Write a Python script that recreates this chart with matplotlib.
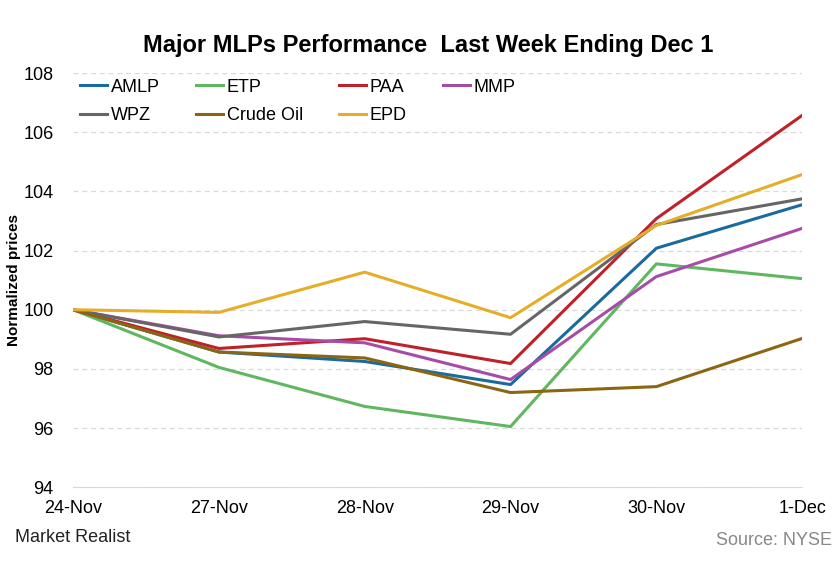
import matplotlib.pyplot as plt

plt.rcParams['font.family'] = ['Liberation Sans', 'DejaVu Sans']

# Data
dates = ['24-Nov', '27-Nov', '28-Nov', '29-Nov', '30-Nov', '1-Dec']
amlp = [100, 98.57, 98.25, 97.47, 102.08, 103.55]
etp = [100, 98.05, 96.73, 96.05, 101.55, 101.05]
paa = [100, 98.69, 99.02, 98.18, 103.08, 106.57]
mmp = [100, 99.12, 98.88, 97.64, 101.12, 102.75]
wpz = [100, 99.08, 99.6, 99.17, 102.88, 103.75]
crude = [100, 98.57, 98.37, 97.2, 97.4, 99.03]
epd = [100, 99.91, 101.27, 99.73, 102.85, 104.57]

series = [
    ('AMLP', amlp, '#1a6a9e'),
    ('ETP', etp, '#5fb760'),
    ('PAA', paa, '#c0202a'),
    ('MMP', mmp, '#a64ca8'),
    ('WPZ', wpz, '#666666'),
    ('Crude Oil', crude, '#8a6612'),
    ('EPD', epd, '#e6ad28'),
]

fig = plt.figure(figsize=(8.4, 5.8), dpi=100)
ax = fig.add_axes([0.087, 0.160, 0.868, 0.714])

lines = {}
for name, vals, color in series:
    ln, = ax.plot(range(len(dates)), vals, color=color, lw=2.2, label=name)
    lines[name] = ln

ax.set_xlim(0, len(dates) - 1)
ax.set_ylim(94, 108)
ax.set_yticks(range(94, 109, 2))
ax.set_xticks(range(len(dates)))
ax.set_xticklabels(dates)
ax.tick_params(axis='both', length=0, labelsize=13)
ax.tick_params(axis='x', pad=9)
ax.tick_params(axis='y', pad=14)
ax.yaxis.grid(True, color='#d9d9d9', linestyle=(0, (4, 3)), lw=0.9)
ax.set_axisbelow(True)
for s in ['top', 'right', 'left']:
    ax.spines[s].set_visible(False)
ax.spines['bottom'].set_color('#d9d9d9')

ax.set_ylabel('Normalized prices', fontsize=11, fontweight='bold', labelpad=2)
fig.text(0.51, 0.922, 'Major MLPs Performance  Last Week Ending Dec 1',
         ha='center', va='center', fontsize=17, fontweight='bold')

# legend is filled column-wise, so reorder to read row by row
order = ['AMLP', 'WPZ', 'ETP', 'Crude Oil', 'PAA', 'EPD', 'MMP']
ax.legend([lines[n] for n in order], order, ncol=4, loc='upper left',
          bbox_to_anchor=(0.0, 1.004), frameon=False, fontsize=13,
          handlelength=1.5, handletextpad=0.2, columnspacing=2.0,
          labelspacing=0.62, borderaxespad=0.0)

fig.text(0.018, 0.073, 'Market Realist', fontsize=13, color='#222222',
         ha='left', va='center')
fig.text(0.99, 0.068, 'Source: NYSE', fontsize=13, color='#888888',
         ha='right', va='center')

fig.savefig('out.png', dpi=100)
